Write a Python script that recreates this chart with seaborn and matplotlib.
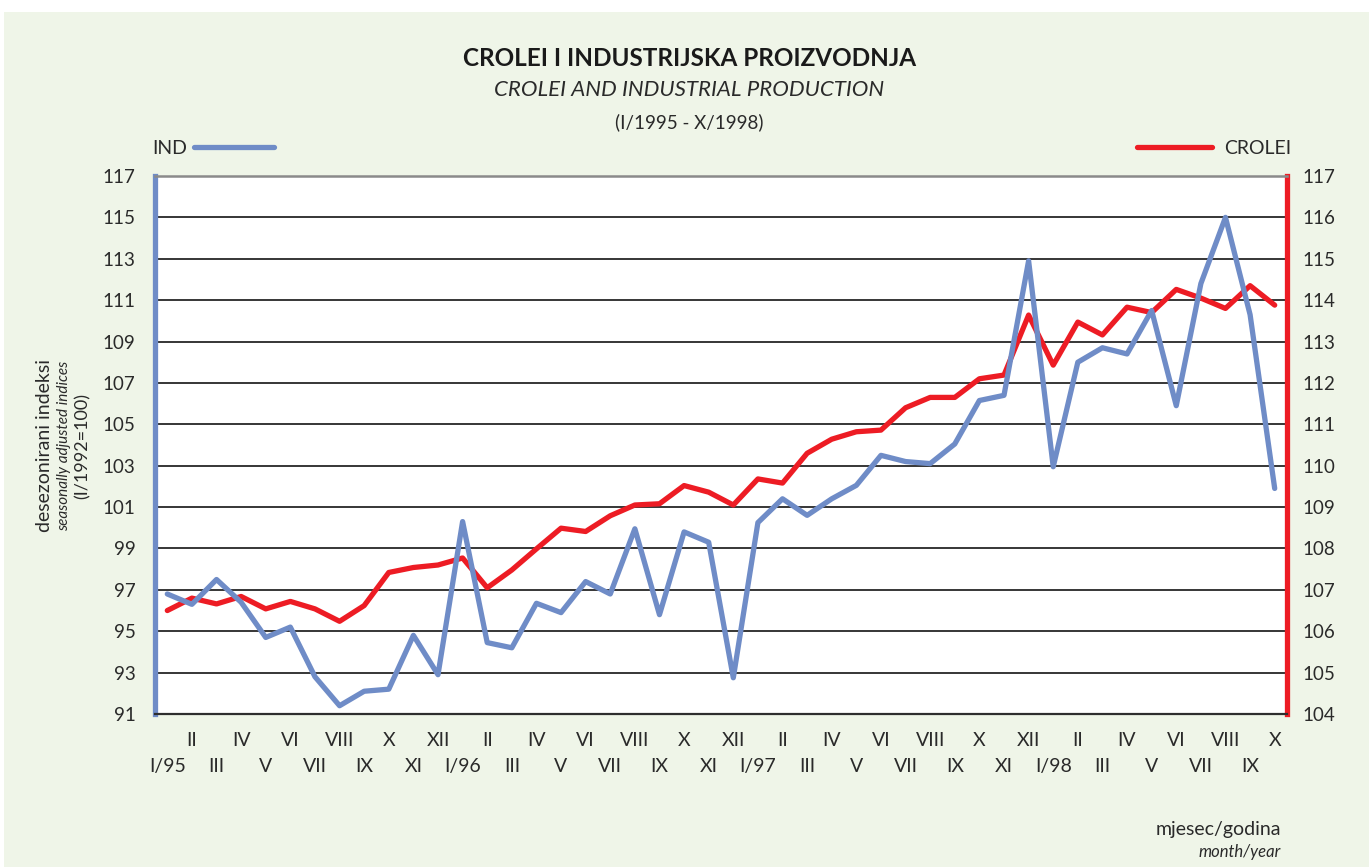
import pandas as pd
import matplotlib.pyplot as plt
import seaborn as sns
from matplotlib.patches import Rectangle
from matplotlib.lines import Line2D

sns.set_theme(style="white")
plt.rcParams['font.family'] = ['Lato', 'DejaVu Sans']

# monthly data I/1995 - X/1998
ind = [96.8, 96.3, 97.5, 96.4, 94.7, 95.2, 92.8, 91.4, 92.1, 92.2, 94.8, 92.9,
       100.3, 94.45, 94.2, 96.35, 95.9, 97.4, 96.8, 99.95, 95.8, 99.8, 99.3, 92.75,
       100.25, 101.4, 100.6, 101.4, 102.05, 103.5, 103.2, 103.1, 104.05, 106.15, 106.4, 112.9,
       102.95, 108.0, 108.7, 108.4, 110.5, 105.9, 111.8, 115.0, 110.3, 101.9]
crolei = [106.5, 106.8, 106.66, 106.84, 106.54, 106.72, 106.54, 106.24, 106.62, 107.42, 107.54, 107.6,
          107.77, 107.05, 107.48, 107.99, 108.49, 108.41, 108.79, 109.05, 109.08, 109.52, 109.36, 109.05,
          109.68, 109.58, 110.3, 110.64, 110.82, 110.86, 111.4, 111.65, 111.65, 112.1, 112.19, 113.64,
          112.43, 113.47, 113.16, 113.83, 113.7, 114.26, 114.05, 113.8, 114.35, 113.88]
roman = ['I', 'II', 'III', 'IV', 'V', 'VI', 'VII', 'VIII', 'IX', 'X', 'XI', 'XII']
years = ['95', '96', '97', '98']

labels = []
for i in range(len(ind)):
    m = i % 12
    labels.append('I/' + years[i // 12] if m == 0 else roman[m])

df = pd.DataFrame({'t': range(len(ind)), 'IND': ind, 'CROLEI': crolei})

blue = '#6f8cc7'
red = '#ed1c24'
bg = '#eff5e8'
txt = '#2a2a2a'

fig = plt.figure(figsize=(13.69, 8.67), dpi=100)
fig.patch.set_facecolor('white')
fig.patches.append(Rectangle((4 / 1369, 0), 1, 1 - 12 / 867, transform=fig.transFigure,
                             facecolor=bg, edgecolor='none', zorder=-10))

ax = fig.add_axes([155 / 1369, 1 - 714 / 867, (1287 - 155) / 1369, (714 - 176) / 867])
ax2 = ax.twinx()
ax.set_zorder(2)
ax2.set_zorder(1)
ax.patch.set_visible(False)
ax2.patch.set_visible(True)
ax2.patch.set_facecolor('white')

sns.lineplot(data=df, x='t', y='CROLEI', ax=ax2, color=red, lw=3.8)
sns.lineplot(data=df, x='t', y='IND', ax=ax, color=blue, lw=3.8)

ax.set_xlim(-0.5, len(ind) - 0.5)
ax.set_ylim(91, 117)
ax.set_yticks(range(91, 118, 2))
ax2.set_ylim(104, 117)
ax2.set_yticks(range(104, 118))
ax2.yaxis.grid(True, color='#262626', lw=1.3)
ax2.set_axisbelow(True)

odd = list(range(1, len(ind), 2))
even = list(range(0, len(ind), 2))
ax.set_xticks(odd, [labels[i] for i in odd])
ax.set_xticks(even, [labels[i] for i in even], minor=True)
ax.tick_params(axis='x', which='major', length=0, pad=13, labelsize=14, labelcolor=txt)
ax.tick_params(axis='x', which='minor', length=0, pad=32, labelsize=14, labelcolor=txt)
ax.tick_params(axis='y', length=0, pad=14, labelsize=13.5, labelcolor=txt)
ax2.tick_params(axis='y', length=0, pad=11, labelsize=13.5, labelcolor=txt)
ax.set_xlabel('')
ax.set_ylabel('')
ax2.set_ylabel('')

for a in (ax, ax2):
    for s in a.spines.values():
        s.set_visible(False)
ax.spines['left'].set_visible(True)
ax.spines['left'].set_color(blue)
ax.spines['left'].set_linewidth(3.8)
ax2.spines['right'].set_visible(True)
ax2.spines['right'].set_color(red)
ax2.spines['right'].set_linewidth(3.8)
ax.spines['top'].set_visible(True)
ax.spines['top'].set_color('#8a8a8a')
ax.spines['top'].set_linewidth(1.8)
ax.spines['bottom'].set_visible(True)
ax.spines['bottom'].set_color('#2e2e2e')
ax.spines['bottom'].set_linewidth(1.6)

# titles
fig.text(690 / 1369, 1 - 58 / 867, 'CROLEI I INDUSTRIJSKA PROIZVODNJA', ha='center', va='center',
         fontsize=17.5, fontweight='bold', color='#1a1a1a')
fig.text(689 / 1369, 1 - 90 / 867, 'CROLEI AND INDUSTRIAL PRODUCTION', ha='center', va='center',
         fontsize=16, fontstyle='italic', color=txt)
fig.text(689 / 1369, 1 - 122 / 867, '(I/1995 - X/1998)', ha='center', va='center',
         fontsize=13.5, color=txt)

# legend
fig.text(152 / 1369, 1 - 148 / 867, 'IND', ha='left', va='center', fontsize=14, color=txt)
fig.add_artist(Line2D([194 / 1369, 274 / 1369], [1 - 147 / 867] * 2, color=blue, lw=3.8))
fig.text(1291 / 1369, 1 - 148 / 867, 'CROLEI', ha='right', va='center', fontsize=14, color=txt)
fig.add_artist(Line2D([1137 / 1369, 1212 / 1369], [1 - 147 / 867] * 2, color=red, lw=3.8))

# y axis title
fig.text(45 / 1369, 1 - 446 / 867, 'desezonirani indeksi', rotation=90, ha='center', va='center',
         fontsize=14, color=txt)
fig.text(64 / 1369, 1 - 446 / 867, 'seasonally adjusted indices', rotation=90, ha='center',
         va='center', fontsize=11, fontstyle='italic', color=txt)
fig.text(83 / 1369, 1 - 446 / 867, '(I/1992=100)', rotation=90, ha='center', va='center',
         fontsize=13, color=txt)

# x axis title
fig.text(1281 / 1369, 1 - 830 / 867, 'mjesec/godina', ha='right', va='center', fontsize=14, color=txt)
fig.text(1281 / 1369, 1 - 852 / 867, 'month/year', ha='right', va='center', fontsize=12,
         fontstyle='italic', color=txt)

plt.savefig('out.png', dpi=100, facecolor=fig.get_facecolor())
plt.close()
